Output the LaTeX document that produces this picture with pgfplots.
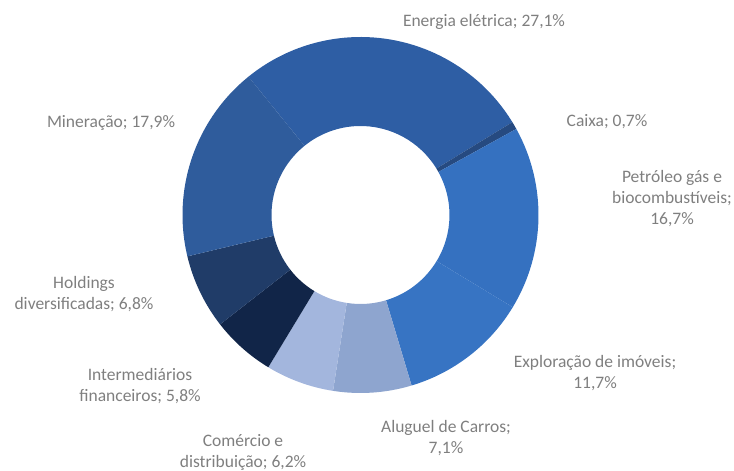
\documentclass[border=0pt]{standalone}
\usepackage{pgfplots}
\pgfplotsset{compat=1.18}
\usepackage{fontspec}
\setmainfont{Carlito}

\definecolor{cEnergia}{HTML}{2E5EA4}
\definecolor{cCaixa}{HTML}{264A80}
\definecolor{cPetroleo}{HTML}{3571C0}
\definecolor{cExploracao}{HTML}{3774C3}
\definecolor{cAluguel}{HTML}{8EA5CF}
\definecolor{cComercio}{HTML}{A3B6DD}
\definecolor{cIntermed}{HTML}{112548}
\definecolor{cHoldings}{HTML}{203C68}
\definecolor{cMineracao}{HTML}{2F5C9C}
\definecolor{labelgray}{HTML}{7F7F7F}

\tikzset{lbl/.style={font=\fontsize{17.5}{21}\selectfont, text=labelgray, align=center, inner sep=0pt}}

% donut centre and radii, in axis units (1 unit = 1pt)
\def\cx{360.5}
\def\cy{256}
\def\ro{178}
\def\ri{89}
\def\startang{129}

\gdef\cum{0}
% #1 = share in percent, #2 = colour
\newcommand\slice[2]{%
  \pgfmathsetmacro\aone{\startang-3.6*\cum}%
  \pgfmathsetmacro\atwo{\startang-3.6*(\cum+#1)}%
  \pgfmathsetmacro\newcum{\cum+#1}%
  \global\let\cum\newcum
  \edef\temp{\noexpand\fill[#2]
    ({\cx+\ro*cos(\aone)},{\cy+\ro*sin(\aone)})
    arc[start angle=\aone, end angle=\atwo, radius=\ro pt]
    -- ({\cx+\ri*cos(\atwo)},{\cy+\ri*sin(\atwo)})
    arc[start angle=\atwo, end angle=\aone, radius=\ri pt] -- cycle;}%
  \temp}

\begin{document}
\begin{tikzpicture}
\useasboundingbox (0,0) rectangle (734pt,471pt);
\begin{axis}[
  width=734pt, height=471pt, scale only axis,
  xmin=0, xmax=734, ymin=0, ymax=471,
  hide axis, clip=false
]
\slice{27.1}{cEnergia}
\slice{0.7}{cCaixa}
\slice{16.7}{cPetroleo}
\slice{11.7}{cExploracao}
\slice{7.1}{cAluguel}
\slice{6.2}{cComercio}
\slice{5.8}{cIntermed}
\slice{6.8}{cHoldings}
\slice{17.9}{cMineracao}

\node[lbl] at (484,449) {Energia elétrica; 27,1\%};
\node[lbl] at (607,349) {Caixa; 0,7\%};
\node[lbl] at (672,272) {Petróleo gás e\\biocombustíveis;\\16,7\%};
\node[lbl] at (595,98) {Exploração de imóveis;\\11,7\%};
\node[lbl] at (446,33) {Aluguel de Carros;\\7,1\%};
\node[lbl] at (243,19) {Comércio e\\distribuição; 6,2\%};
\node[lbl] at (140,85) {Intermediários\\financeiros; 5,8\%};
\node[lbl] at (84,177) {Holdings\\diversificadas; 6,8\%};
\node[lbl] at (111,348) {Mineração; 17,9\%};
\end{axis}
\end{tikzpicture}
\end{document}
